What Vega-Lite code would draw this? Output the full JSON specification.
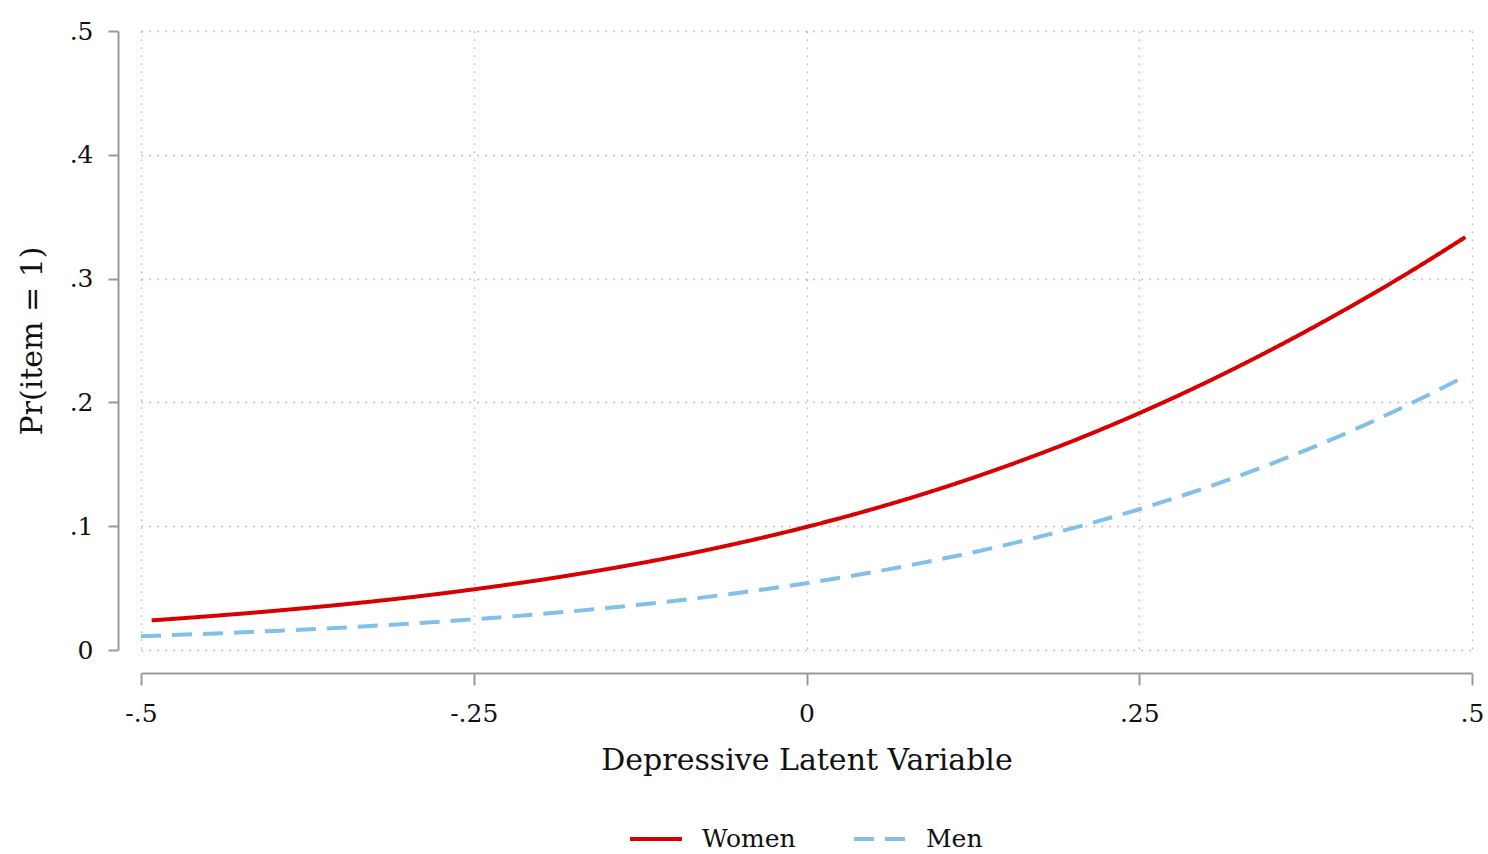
{
  "$schema": "https://vega.github.io/schema/vega-lite/v6.json",
  "autosize": "none",
  "width": 1331,
  "height": 619,
  "padding": {"left": 141, "top": 31, "right": 16, "bottom": 204},
  "background": "white",
  "config": {
    "view": {"stroke": null},
    "font": "DejaVu Serif",
    "axis": {
      "labelFont": "DejaVu Serif",
      "titleFont": "DejaVu Serif",
      "labelColor": "#111",
      "titleColor": "#111",
      "titleFontWeight": "normal",
      "domainColor": "#9a9a9a",
      "domainWidth": 2,
      "tickColor": "#9a9a9a",
      "tickWidth": 2,
      "gridColor": "#b0b0b0",
      "gridDash": [1.5, 6.5],
      "gridWidth": 1.3,
      "labelFlush": false,
      "labelOverlap": false
    }
  },
  "data": {
    "values": [
      {"x": -0.492, "p": 0.0239, "g": "Women"},
      {"x": -0.45, "p": 0.0272, "g": "Women"},
      {"x": -0.4, "p": 0.0316, "g": "Women"},
      {"x": -0.35, "p": 0.0366, "g": "Women"},
      {"x": -0.3, "p": 0.0423, "g": "Women"},
      {"x": -0.25, "p": 0.049, "g": "Women"},
      {"x": -0.2, "p": 0.0566, "g": "Women"},
      {"x": -0.15, "p": 0.0653, "g": "Women"},
      {"x": -0.1, "p": 0.0752, "g": "Women"},
      {"x": -0.05, "p": 0.0866, "g": "Women"},
      {"x": 0, "p": 0.0994, "g": "Women"},
      {"x": 0.05, "p": 0.1139, "g": "Women"},
      {"x": 0.1, "p": 0.1302, "g": "Women"},
      {"x": 0.15, "p": 0.1485, "g": "Women"},
      {"x": 0.2, "p": 0.1688, "g": "Women"},
      {"x": 0.25, "p": 0.1913, "g": "Women"},
      {"x": 0.3, "p": 0.216, "g": "Women"},
      {"x": 0.35, "p": 0.243, "g": "Women"},
      {"x": 0.4, "p": 0.2721, "g": "Women"},
      {"x": 0.45, "p": 0.3033, "g": "Women"},
      {"x": 0.495, "p": 0.3335, "g": "Women"},
      {"x": -0.5, "p": 0.0112, "g": "Men"},
      {"x": -0.45, "p": 0.0131, "g": "Men"},
      {"x": -0.4, "p": 0.0154, "g": "Men"},
      {"x": -0.35, "p": 0.018, "g": "Men"},
      {"x": -0.3, "p": 0.0212, "g": "Men"},
      {"x": -0.25, "p": 0.0248, "g": "Men"},
      {"x": -0.2, "p": 0.029, "g": "Men"},
      {"x": -0.15, "p": 0.0339, "g": "Men"},
      {"x": -0.1, "p": 0.0396, "g": "Men"},
      {"x": -0.05, "p": 0.0463, "g": "Men"},
      {"x": 0, "p": 0.054, "g": "Men"},
      {"x": 0.05, "p": 0.0629, "g": "Men"},
      {"x": 0.1, "p": 0.0732, "g": "Men"},
      {"x": 0.15, "p": 0.0849, "g": "Men"},
      {"x": 0.2, "p": 0.0984, "g": "Men"},
      {"x": 0.25, "p": 0.1137, "g": "Men"},
      {"x": 0.3, "p": 0.1311, "g": "Men"},
      {"x": 0.35, "p": 0.1507, "g": "Men"},
      {"x": 0.4, "p": 0.1726, "g": "Men"},
      {"x": 0.45, "p": 0.197, "g": "Men"},
      {"x": 0.4925, "p": 0.2197, "g": "Men"}
    ]
  },
  "mark": {"type": "line", "strokeWidth": 4, "interpolate": "monotone"},
  "encoding": {
    "x": {
      "field": "x",
      "type": "quantitative",
      "scale": {"domain": [-0.5, 0.5], "nice": false, "zero": false},
      "axis": {
        "values": [-0.5, -0.25, 0, 0.25, 0.5],
        "labelExpr": "datum.value == 0 ? '0' : replace(replace(format(datum.value, '~g'), '0.', '.'), '\u2212', '-')",
        "title": "Depressive Latent Variable",
        "offset": 23,
        "tickSize": 12,
        "labelPadding": 16,
        "labelFontSize": 25,
        "titleFontSize": 30,
        "titlePadding": 19,
        "grid": true
      }
    },
    "y": {
      "field": "p",
      "type": "quantitative",
      "scale": {"domain": [0, 0.5], "nice": false},
      "axis": {
        "values": [0, 0.1, 0.2, 0.3, 0.4, 0.5],
        "labelExpr": "datum.value == 0 ? '0' : replace(format(datum.value, '~g'), '0.', '.')",
        "title": "Pr(item = 1)",
        "offset": 23,
        "tickSize": 10,
        "labelPadding": 15,
        "labelFontSize": 25,
        "titleFontSize": 30,
        "titlePadding": 22,
        "grid": true
      }
    },
    "color": {
      "field": "g",
      "type": "nominal",
      "scale": {"domain": ["Women", "Men"], "range": ["#d80000", "#82bfe9"]},
      "legend": {
        "title": null,
        "orient": "none",
        "direction": "horizontal",
        "legendX": 487,
        "legendY": 780,
        "symbolType": "stroke",
        "symbolSize": 2704,
        "symbolStrokeWidth": 4,
        "labelFont": "DejaVu Serif",
        "labelFontSize": 25,
        "labelColor": "#111",
        "labelOffset": 18,
        "columnPadding": 50
      }
    },
    "strokeDash": {
      "field": "g",
      "type": "nominal",
      "scale": {"domain": ["Women", "Men"], "range": [[1, 0], [20, 11]]},
      "legend": null
    }
  }
}
